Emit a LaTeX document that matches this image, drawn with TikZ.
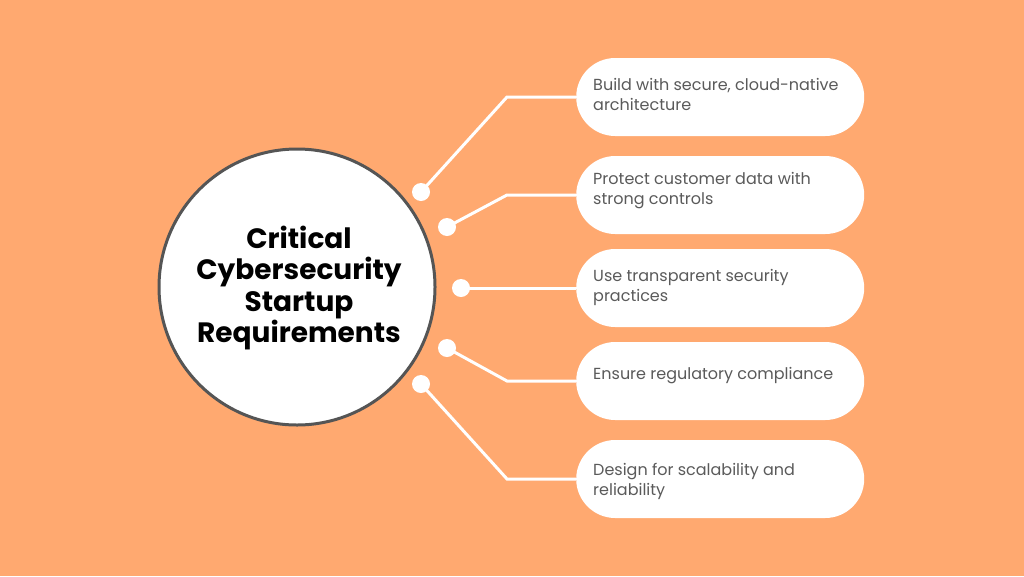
\documentclass[tikz,border=0pt]{standalone}
\usepackage{fontspec}
\setmainfont{Poppins}
\definecolor{bg}{HTML}{FFA970}
\definecolor{ring}{HTML}{555555}
\definecolor{txt}{HTML}{5A5A5A}
\begin{document}
\begin{tikzpicture}[x=1pt,y=-1pt,
  pill/.style={fill=white, rounded corners=39pt, minimum width=288pt, minimum height=78pt, anchor=west, inner sep=0pt},
  pilltext/.style={anchor=west, text=txt, font=\fontsize{16}{20}\selectfont, align=left, inner sep=0pt},
  conn/.style={white, line width=3pt},
  dot/.style={circle, fill=white, minimum size=18pt, inner sep=0pt}]
\fill[bg] (0,0) rectangle (1024,576);
\useasboundingbox (0,0) rectangle (1024,576);
\node[circle, draw=ring, line width=3pt, fill=white, minimum size=276pt, inner sep=0pt] (c) at (297,287) {};
\node[align=center, font=\bfseries\fontsize{28}{31.5}\selectfont, text=black] (t) at (299,288) {Critical\\Cybersecurity\\Startup\\Requirements};
% pills
\node[pill] (p1) at (576,97) {};
\node[pill] (p2) at (576,195) {};
\node[pill] (p3) at (576,288) {};
\node[pill] (p4) at (576,381) {};
\node[pill] (p5) at (576,479) {};
\node[pilltext] (l1) at (593,94) {Build with secure, cloud-native\\architecture};
\node[pilltext] (l2) at (593,191) {Protect customer data with\\strong controls};
\node[pilltext] (l3) at (593,287) {Use transparent security\\practices};
\node[pilltext] (l4) at (593,376) {Ensure regulatory compliance};
\node[pilltext] (l5) at (593,481) {Design for scalability and\\reliability};
% dots
\node[dot] (d1) at (421,192) {};
\node[dot] (d2) at (447,227) {};
\node[dot] (d3) at (461,288) {};
\node[dot] (d4) at (447,348) {};
\node[dot] (d5) at (421,384) {};
\coordinate (b1) at (507,97);
\coordinate (b2) at (507,195);
\coordinate (b4) at (507,381);
\coordinate (b5) at (507,479);
\draw[conn] (d1.center) -- (b1) -- (p1.west);
\draw[conn] (d2.center) -- (b2) -- (p2.west);
\draw[conn] (d3.center) -- (p3.west);
\draw[conn] (d4.center) -- (b4) -- (p4.west);
\draw[conn] (d5.center) -- (b5) -- (p5.west);
\end{tikzpicture}
\end{document}
